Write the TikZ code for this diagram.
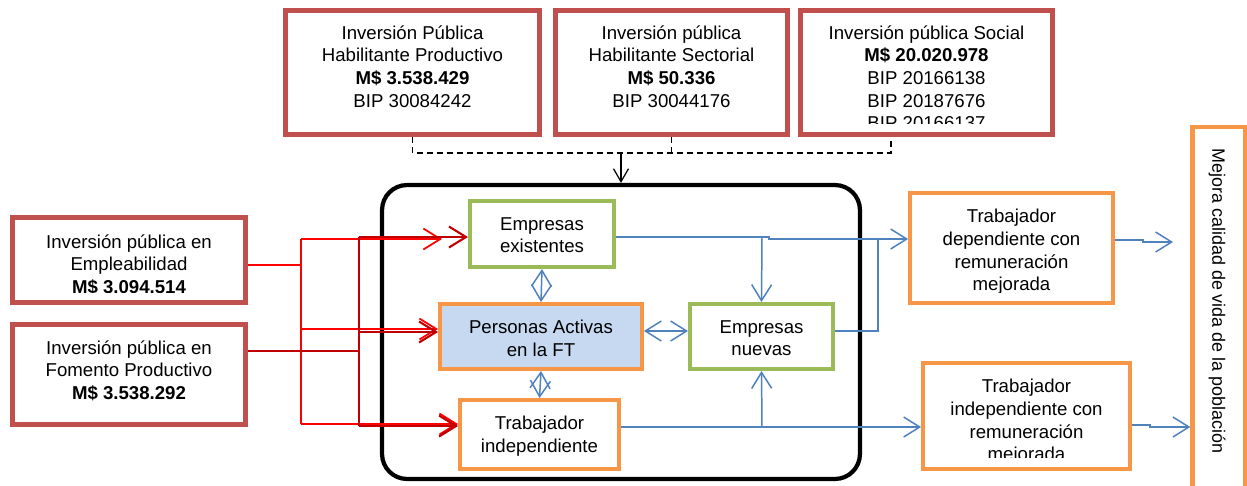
\documentclass[tikz,border=0pt]{standalone}
\usepackage{fontspec}
\setmainfont{Liberation Sans}
\usepackage{tikz}
\usetikzlibrary{arrows.meta}

\definecolor{invred}{HTML}{C0504D}
\definecolor{empgreen}{HTML}{9BBB59}
\definecolor{perorange}{HTML}{F79646}
\definecolor{flowblue}{HTML}{4F81BD}
\definecolor{perfill}{HTML}{C6D9F1}
\definecolor{fomred}{HTML}{C00000}

\tikzset{
	invbox/.style={draw=invred,line width=2.85pt,inner sep=0pt},
	grbox/.style={draw=empgreen,line width=2.3pt,inner sep=0pt},
	orbox/.style={draw=perorange,line width=2.5pt,inner sep=0pt},
	empline/.style={draw=red,line width=1pt},
	fomline/.style={draw=fomred,line width=1.2pt},
	bline/.style={draw=flowblue,line width=0.85pt},
	dline/.style={draw=black,line width=0.7pt,dash pattern=on 3.4pt off 2.3pt}
}

\begin{document}
\begin{tikzpicture}[x=0.02cm,y=-0.02cm,font=\fontsize{10.6}{12.9}\selectfont]
		\useasboundingbox (0,0) rectangle (1247,485);

		% la caja grande
		\node[draw,line width=2.4pt,rounded corners=0.5cm,minimum width=9.56cm,minimum height=5.88cm,inner sep=0pt] (ft) at (621,332) {};

		\begin{scope}[every node/.style={invbox}]
			\node[minimum width=5.08cm,minimum height=2.48cm] (hp) at (412.5,72.5) {};
			\node[minimum width=4.64cm,minimum height=2.48cm] (hs) at (671.5,72.5) {};
			\node[minimum width=5.04cm,minimum height=2.48cm] (soc) at (926.5,72.5) {};

			\node[minimum width=4.66cm,minimum height=1.70cm] (emp) at (129,260) {};
			\node[minimum width=4.66cm,minimum height=2.00cm] (fom) at (129,374.5) {};
		\end{scope}

		\begin{scope}[every node/.style={grbox}]
			\node[minimum width=2.88cm,minimum height=1.32cm] (ex) at (542,234) {};
			\node[minimum width=2.86cm,minimum height=1.30cm] (nv) at (761.5,336.5) {};
		\end{scope}

		\begin{scope}[every node/.style={orbox}]
			\node[fill=perfill,minimum width=4.03cm,minimum height=1.29cm] (pa) at (541,336.5) {};
			\node[minimum width=3.17cm,minimum height=1.37cm] (ti) at (539.5,434.5) {};
			\node[minimum width=4.05cm,minimum height=2.19cm] (td) at (1011.5,248) {};
			\node[minimum width=4.13cm,minimum height=2.11cm] (tic) at (1026.5,416) {};
			\node[minimum width=1.05cm,minimum height=7.35cm] (mv) at (1218.75,311) {};
		\end{scope}

		% textos
		\begin{scope}[every node/.style={align=center,inner sep=0pt,anchor=north}]
			\node (hpt) at (412.5,25) {Inversión Pública\\Habilitante Productivo\\\textbf{M\$ 3.538.429}\\BIP 30084242};
			\node (hst) at (671.5,25) {Inversión pública\\Habilitante Sectorial\\\textbf{M\$ 50.336}\\BIP 30044176};
			\begin{scope}
				\clip (790,0) rectangle (1060,123);
				\node (soct) at (926.5,25) {Inversión pública Social\\\textbf{M\$ 20.020.978}\\BIP 20166138\\BIP 20187676\\BIP 20166137};
			\end{scope}
			\begin{scope}
				\clip (0,200) rectangle (250,292);
				\node (empt) at (129,234) {Inversión pública en\\Empleabilidad\\\textbf{M\$ 3.094.514}};
			\end{scope}
			\node (fomt) at (129,340) {Inversión pública en\\Fomento Productivo\\\textbf{M\$ 3.538.292}};

			\node (ext) at (542,217) {Empresas\\existentes};
			\node (pat) at (541,320) {Personas Activas\\en la FT};
			\node (nvt) at (761.5,320) {Empresas\\nuevas};
			\node (tit) at (539.5,416) {Trabajador\\independiente};
			\begin{scope}
				\clip (900,180) rectangle (1120,292);
				\node (tdt) at (1011.5,209) {Trabajador\\dependiente con\\remuneración\\mejorada};
			\end{scope}
			\begin{scope}
				\clip (900,350) rectangle (1140,457);
				\node (tict) at (1026.5,379) {Trabajador\\independiente con\\remuneración\\mejorada};
			\end{scope}
		\end{scope}
		\node[rotate=-90,inner sep=0pt,font=\fontsize{10.2}{12}\selectfont] (mvt) at (1217,301) {Mejora calidad de vida de la población};

		% inversiones de arriba
		\coordinate (dj) at (413,153);
		\coordinate (dk) at (891,153);
		\draw[dline] (hp.south) |- (dk) -- (dk |- soc.south);
		\draw[dline] (hs.south) -- (hs.south |- dk);
		\draw[line width=0.7pt,-{Straight Barb[length=2.6mm,width=3mm]}] (ft.north |- dj) -- (ft.north);

		% lineas rojas
		\begin{scope}[>={Straight Barb[length=3.4mm,width=4.2mm]}]
			\coordinate (ej) at (301,265);
			\coordinate (ej1) at (301,239);
			\coordinate (ej2) at (301,329);
			\coordinate (ej3) at (301,424);
			\coordinate (ea) at (442,239);
			\draw[empline] (emp.east |- ej) -- (ej);
			\draw[empline] (ej1) -- (ej3);
			\draw[empline,->] (ej1) -- (ea);
			\draw[empline,->] (ej2) -- (ej2 -| pa.west);
			\draw[empline,->] (ej3) -- (ej3 -| ti.west);

			\coordinate (fj) at (359,351);
			\coordinate (fj1) at (359,237);
			\coordinate (fj2) at (359,332);
			\coordinate (fj3) at (359,426);
			\draw[fomline] (fom.east |- fj) -- (fj);
			\draw[fomline] (fj1) -- (fj3);
			\draw[fomline,->] (fj1) -- (fj1 -| ex.west);
			\draw[fomline,->] (fj2) -- (fj2 -| pa.west);
			\draw[fomline,->] (fj3) -- (fj3 -| ti.west);
		\end{scope}

		% lineas azules
		\begin{scope}[>={Straight Barb[length=3.2mm,width=4mm]}]
			\draw[bline,<->] (ex.south) -- (pa.north);
			\draw[bline,<->] ([yshift=0.11cm]pa.east) -- ([yshift=0.11cm]nv.west);
			\draw[bline,<->] (pa.south) -- (ti.north);

			\coordinate (bh) at (762,237);
			\coordinate (bh1) at (769,239);
			\coordinate (bn) at (878,239);
			\draw[bline,->] (ex.east |- bh) -- (bh1 |- bh) -- (bh1) -- (bh1 -| td.west);
			\draw[bline,->] (bh) -- (nv.north);
			\draw[bline] ([yshift=0.11cm]nv.east) -| (bn);

			\coordinate (bt) at (762,427);
			\draw[bline,->] (ti.east |- bt) -- (bt -| tic.west);
			\draw[bline,->] (bt) -- (nv.south);

			\coordinate (bd0) at (1143,240);
			\coordinate (bd) at (1143,242);
			\coordinate (mva) at (1173,242);
			\draw[bline,->] (td.east |- bd0) -- (bd0) -- (bd) -- (mva);

			\coordinate (bi0) at (1150,425);
			\coordinate (bi) at (1150,427);
			\draw[bline,->] (tic.east |- bi0) -- (bi0) -- (bi) -- (bi -| mv.west);
		\end{scope}
\end{tikzpicture}
\end{document}
